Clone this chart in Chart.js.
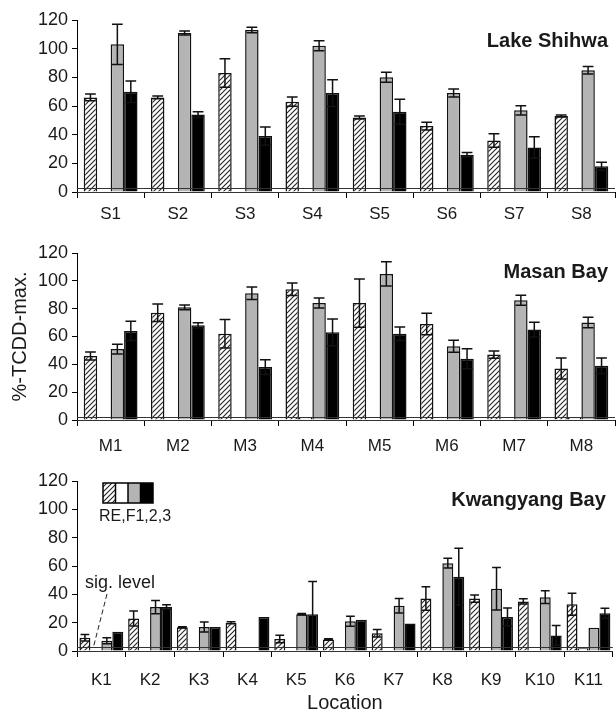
<!DOCTYPE html>
<html>
<head>
<meta charset="utf-8">
<script src="https://cdn.jsdelivr.net/npm/chart.js@4.4.0/dist/chart.umd.min.js"></script>
<style>
  body { margin: 0; background: #fff; }
  .panel { position: absolute; left: 0; width: 616px; }
</style>
</head>
<body>
<div class="panel" style="top:0px"><canvas id="shihwa" width="616" height="230"></canvas></div>
<div class="panel" style="top:230px"><canvas id="masan" width="616" height="230"></canvas></div>
<div class="panel" style="top:460px"><canvas id="kwang" width="616" height="255"></canvas></div>
<script>
// Lake Shihwa
const shihwaSites = ['S1', 'S2', 'S3', 'S4', 'S5', 'S6', 'S7', 'S8'];
const shihwaRE    = [66, 66, 83, 63, 52, 46, 36, 53];
const shihwaREErr = [2.3, 1, 10, 3.2, 1, 2.7, 4.7, 0.7];
const shihwaF1    = [0, 0, 0, 0, 0, 0, 0, 0];
const shihwaF2    = [103, 111, 113, 102, 80, 69, 57, 85];
const shihwaF2Err = [14, 1.4, 1.9, 3.5, 3.5, 2.8, 3.2, 2.6];
const shihwaF3    = [70, 54, 39, 69, 56, 26, 31, 18];
const shihwaF3Err = [7.5, 2, 6.3, 9.4, 8.7, 1.6, 7.5, 2.8];

// Masan Bay
const masanSites = ['M1', 'M2', 'M3', 'M4', 'M5', 'M6', 'M7', 'M8'];
const masanRE    = [46, 77, 62, 94, 84, 69, 47, 37];
const masanREErr = [2.8, 6.3, 10.3, 4.5, 17.4, 7.7, 2.6, 7.5];
const masanF1    = [0, 0, 0, 2, 0, 0, 0, 2];
const masanF2    = [51, 81, 91, 84, 105, 53, 86, 70];
const masanF2Err = [3.5, 1.7, 4.5, 3.6, 8.7, 4.3, 3.6, 3.8];
const masanF3    = [64, 68, 38, 63, 62, 44, 65, 39];
const masanF3Err = [6.9, 1.9, 5.3, 9.6, 4.8, 7.2, 5.3, 5.5];

// Kwangyang Bay
const kwangSites = ['K1', 'K2', 'K3', 'K4', 'K5', 'K6', 'K7', 'K8', 'K9', 'K10', 'K11'];
const kwangRE    = [9.4, 23, 16.7, 20, 8.5, 8.2, 12.5, 37, 37, 35, 33];
const kwangREErr = [2.3, 5.3, 0.5, 0.7, 2.6, 0.5, 2.6, 8.3, 2.6, 1.8, 7.7];
const kwangF1    = [0, 0, 0, 0, 0, 0, 0, 0, 0, 0, 2];
const kwangF2    = [7.3, 31, 17, 0, 26, 21, 32, 62, 44, 38, 16.5];
const kwangF2Err = [2.1, 4.7, 3.5, 0, 0.5, 3.5, 5.1, 3.4, 15, 4.5, 0];
const kwangF3    = [13.6, 31, 17, 24, 26, 22, 19.5, 52.5, 24, 11, 26.6];
const kwangF3Err = [0, 1.6, 0, 0, 23, 0, 0, 20, 6.4, 7, 3.5];

const yTicks = [0, 20, 40, 60, 80, 100, 120];
const sigLevel = 2.5;

const FONT = '"Liberation Sans", Arial, sans-serif';
const INK = '#1a1a1a';
const GRAY = '#b4b4b4';

// diagonal hatch for the RE bars
function makeHatch() {
  const c = document.createElement('canvas');
  c.width = 5; c.height = 5;
  const g = c.getContext('2d');
  g.fillStyle = '#fff';
  g.fillRect(0, 0, 5, 5);
  g.strokeStyle = '#2a2a2a';
  g.lineWidth = 1.2;
  g.beginPath();
  g.moveTo(0, 5); g.lineTo(5, 0);
  g.moveTo(-1, 1); g.lineTo(1, -1);
  g.moveTo(4, 6); g.lineTo(6, 4);
  g.stroke();
  return g.createPattern(c, 'repeat');
}
const hatch = makeHatch();

// sig. level band, error bars, panel title, legend and annotation
const decor = {
  id: 'decor',
  afterDatasetsDraw(chart, args, opts) {
    const ctx = chart.ctx;
    const y = chart.scales.y;
    const x = chart.scales.x;
    const area = chart.chartArea;

    // band lines
    ctx.save();
    ctx.strokeStyle = '#333';
    ctx.lineWidth = 1;
    [0, sigLevel].forEach(v => {
      const py = Math.round(y.getPixelForValue(v)) + 0.5;
      ctx.beginPath();
      ctx.moveTo(area.left, py);
      ctx.lineTo(area.right, py);
      ctx.stroke();
    });
    ctx.restore();

    // error bars
    chart.data.datasets.forEach((ds, i) => {
      if (!ds.errors) return;
      chart.getDatasetMeta(i).data.forEach((bar, j) => {
        const e = ds.errors[j];
        if (!e) return;
        const v = ds.data[j];
        const top = y.getPixelForValue(v + e);
        const bot = y.getPixelForValue(v - e);
        const half = bar.width * 0.4;
        ctx.save();
        ctx.strokeStyle = '#111';
        ctx.lineWidth = 1.5;
        ctx.beginPath();
        ctx.moveTo(bar.x, top); ctx.lineTo(bar.x, bot);
        ctx.moveTo(bar.x - half, top); ctx.lineTo(bar.x + half, top);
        ctx.moveTo(bar.x - half, bot); ctx.lineTo(bar.x + half, bot);
        ctx.stroke();
        ctx.restore();
      });
    });

    // panel title
    ctx.save();
    ctx.fillStyle = INK;
    ctx.font = 'bold 20px ' + FONT;
    ctx.textAlign = 'right';
    ctx.textBaseline = 'middle';
    ctx.fillText(opts.title, area.right - 7, area.top + opts.titleDy);
    ctx.restore();

    if (opts.legend) {
      const lx = area.left + 26, ly = area.top + 2, cw = 12.5, ch = 20;
      const fills = [hatch, '#fff', GRAY, '#000'];
      ctx.save();
      fills.forEach((f, k) => {
        ctx.fillStyle = f;
        ctx.fillRect(lx + k * cw, ly, cw, ch);
      });
      ctx.strokeStyle = '#000';
      ctx.lineWidth = 1.5;
      ctx.strokeRect(lx, ly, cw * 4, ch);
      for (let k = 1; k < 4; k++) {
        ctx.beginPath();
        ctx.moveTo(lx + k * cw, ly);
        ctx.lineTo(lx + k * cw, ly + ch);
        ctx.stroke();
      }
      ctx.fillStyle = INK;
      ctx.font = '16px ' + FONT;
      ctx.textAlign = 'left';
      ctx.textBaseline = 'middle';
      ctx.fillText('RE,F1,2,3', area.left + 22, ly + ch + 14);
      ctx.restore();
    }

    if (opts.sigNote) {
      const ty = y.getPixelForValue(48);
      const ex = x.getPixelForValue(0) - 8;
      ctx.save();
      ctx.fillStyle = INK;
      ctx.font = '18px ' + FONT;
      ctx.textAlign = 'left';
      ctx.textBaseline = 'middle';
      ctx.fillText('sig. level', area.left + 8, ty);
      ctx.strokeStyle = '#222';
      ctx.lineWidth = 1;
      ctx.setLineDash([5, 3]);
      ctx.beginPath();
      ctx.moveTo(area.left + 30, ty + 11);
      ctx.lineTo(ex, y.getPixelForValue(sigLevel));
      ctx.stroke();
      ctx.restore();
    }
  }
};

function makePanel(id, sites, re, reErr, f1, f2, f2Err, f3, f3Err, o) {
  const bar = { borderColor: '#111', borderWidth: 1.5, categoryPercentage: o.cat, barPercentage: 1 };
  return new Chart(document.getElementById(id), {
    type: 'bar',
    data: {
      labels: sites,
      datasets: [
        Object.assign({ label: 'RE', data: re, errors: reErr, backgroundColor: hatch }, bar),
        Object.assign({ label: 'F1', data: f1, backgroundColor: '#fff' }, bar),
        Object.assign({ label: 'F2', data: f2, errors: f2Err, backgroundColor: GRAY }, bar),
        Object.assign({ label: 'F3', data: f3, errors: f3Err, backgroundColor: '#000' }, bar)
      ]
    },
    options: {
      responsive: false,
      animation: false,
      layout: { padding: { top: o.top, right: 1, left: 0, bottom: 0 } },
      plugins: {
        legend: { display: false },
        tooltip: { enabled: false },
        decor: { title: o.title, titleDy: o.titleDy, legend: !!o.legend, sigNote: !!o.sigNote }
      },
      scales: {
        x: {
          grid: { offset: true, drawOnChartArea: false, tickLength: 6, color: '#000' },
          border: { color: '#000', width: 1 },
          ticks: { color: INK, font: { family: FONT, size: 17 }, padding: o.labelPad, maxRotation: 0, autoSkip: false },
          title: o.xTitle ? { display: true, text: o.xTitle, color: INK, font: { family: FONT, size: 20 }, padding: { top: 0, bottom: 0 } } : { display: false },
          afterFit: s => { s.height = o.xH; }
        },
        y: {
          min: 0,
          max: 120,
          afterBuildTicks: s => { s.ticks = yTicks.map(v => ({ value: v })); },
          grid: { drawOnChartArea: false, tickLength: 5, color: '#000' },
          border: { color: '#000', width: 1 },
          ticks: { color: INK, font: { family: FONT, size: 18 }, padding: 4 },
          title: o.yTitle ? { display: true, text: o.yTitle, color: INK, font: { family: FONT, size: 20 }, padding: { top: 8, bottom: 0 } } : { display: false },
          afterFit: s => { s.width = 77; }
        }
      }
    },
    plugins: [decor]
  });
}

makePanel('shihwa', shihwaSites, shihwaRE, shihwaREErr, shihwaF1, shihwaF2, shihwaF2Err, shihwaF3, shihwaF3Err,
  { cat: 0.8, top: 20, xH: 38, labelPad: 6, title: 'Lake Shihwa', titleDy: 21 });
makePanel('masan', masanSites, masanRE, masanREErr, masanF1, masanF2, masanF2Err, masanF3, masanF3Err,
  { cat: 0.8, top: 23, xH: 40, labelPad: 10, title: 'Masan Bay', titleDy: 19, yTitle: '%-TCDD-max.' });
makePanel('kwang', kwangSites, kwangRE, kwangREErr, kwangF1, kwangF2, kwangF2Err, kwangF3, kwangF3Err,
  { cat: 0.9, top: 21, xH: 64, labelPad: 13, title: 'Kwangyang Bay', titleDy: 19, legend: true, sigNote: true, xTitle: 'Location' });
</script>
</body>
</html>
